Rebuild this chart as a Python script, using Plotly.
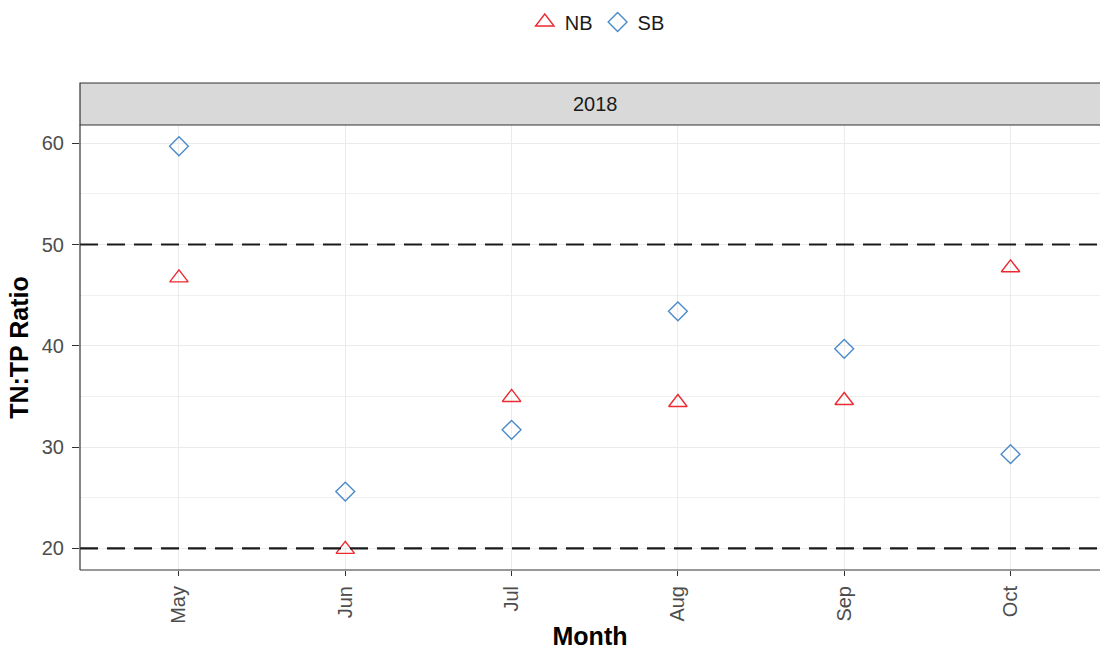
import plotly.graph_objects as go

months = ["May", "Jun", "Jul", "Aug", "Sep", "Oct"]
nb_values = [46.7, 19.9, 34.9, 34.4, 34.6, 47.7]
sb_values = [59.7, 25.6, 31.7, 43.4, 39.7, 29.3]
thresholds = [20, 50]
y_ticks = [20, 30, 40, 50, 60]
y_minor = [25, 35, 45, 55]
facet_label = "2018"

FONT = "Liberation Sans, Arial, Helvetica, sans-serif"
RED = "#EC2A31"
BLUE = "#4A8BCB"

fig = go.Figure()
fig.add_trace(go.Scatter(
    x=months, y=nb_values, mode="markers", name="NB",
    marker=dict(symbol="triangle-up-open", size=16, color=RED, line=dict(width=1.4, color=RED)),
))
fig.add_trace(go.Scatter(
    x=months, y=sb_values, mode="markers", name="SB",
    marker=dict(symbol="diamond-open", size=14.5, color=BLUE, line=dict(width=1.4, color=BLUE)),
))

for t in thresholds:
    fig.add_shape(type="line", xref="paper", x0=0, x1=1, yref="y", y0=t, y1=t,
                  line=dict(color="#1A1A1A", width=2.2, dash="18px,9px"), layer="above")

# panel border (left, bottom)
fig.add_shape(type="line", xref="paper", yref="paper", x0=0, x1=0, y0=0, y1=1,
              line=dict(color="#333333", width=1.2))
fig.add_shape(type="line", xref="paper", yref="paper", x0=0, x1=1, y0=0, y1=0,
              line=dict(color="#333333", width=1.2))
# strip
strip_h = 42 / 445
fig.add_shape(type="rect", xref="paper", yref="paper", x0=0, x1=1.01, y0=1, y1=1 + strip_h,
              fillcolor="#D9D9D9", line=dict(color="#333333", width=1.2))
fig.add_annotation(text=facet_label, xref="paper", yref="paper", x=(595 - 80) / 1020,
                   y=1 + strip_h / 2, showarrow=False,
                   font=dict(family=FONT, size=20, color="#1A1A1A"),
                   xanchor="center", yanchor="middle")

fig.update_layout(
    width=1100, height=650,
    margin=dict(l=80, r=0, t=125, b=80),
    paper_bgcolor="white", plot_bgcolor="white",
    font=dict(family=FONT, color="#4D4D4D"),
    showlegend=True,
    legend=dict(orientation="h", xref="container", yref="container",
                x=0.543, y=1 - 22 / 650, xanchor="center", yanchor="middle",
                font=dict(family=FONT, size=20, color="#1A1A1A"),
                itemwidth=30, tracegroupgap=0),
    xaxis=dict(
        type="category", categoryorder="array", categoryarray=months,
        range=[-0.595, 5.538],
        showgrid=True, gridcolor="#EBEBEB", gridwidth=1.4,
        ticks="outside", ticklen=5, tickwidth=1.2, tickcolor="#333333",
        tickangle=-90, tickfont=dict(family=FONT, size=20, color="#4D4D4D"),
        ticklabelstandoff=2,
        title=dict(text="<b>Month</b>", font=dict(family=FONT, size=25, color="#000000"), standoff=6),
        zeroline=False, showline=False,
    ),
    yaxis=dict(
        range=[17.86, 61.8],
        tickvals=y_ticks,
        showgrid=True, gridcolor="#EBEBEB", gridwidth=1.4,
        minor=dict(tickvals=y_minor, showgrid=True, gridcolor="#F0F0F0", gridwidth=1.2),
        ticks="outside", ticklen=7, tickwidth=1.2, tickcolor="#333333",
        tickfont=dict(family=FONT, size=20, color="#4D4D4D"),
        ticklabelstandoff=4,
        title=dict(text="<b>TN:TP Ratio</b>", font=dict(family=FONT, size=25, color="#000000"), standoff=6),
        zeroline=False, showline=False,
    ),
)

fig.write_html("out.html")
